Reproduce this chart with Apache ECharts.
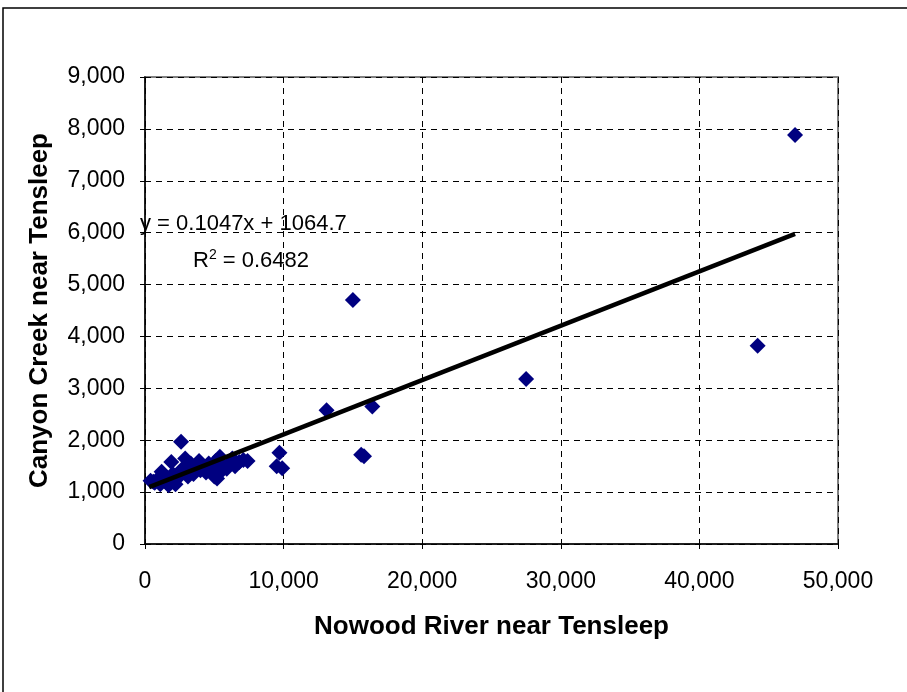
<!DOCTYPE html>
<html lang="en">
<head>
  <meta charset="UTF-8">
  <title>Canyon Creek vs Nowood River</title>
  <script src="https://cdn.jsdelivr.net/npm/echarts@6/dist/echarts.min.js"></script>
  <style>
    html, body { margin: 0; padding: 0; background: #fff; }
  </style>
</head>
<body>
  <div id="main" style="width:907px;height:692px"></div>
  <script>
    // flows (Nowood River x, Canyon Creek y)
    var nowood = [400, 600, 700, 900, 1100, 1200, 1400, 1500, 1700, 1900, 2000, 2200, 2400, 2600,
      2700, 2900, 3000, 3100, 3300, 3500, 3700, 3900, 4000, 4200, 4400, 4600, 4800, 5000,
      5100, 5200, 5400, 5500, 5700, 5900, 6100, 6300, 6500, 6800, 7100, 7400,
      9500, 9700, 9900, 13100, 15000, 15600, 15800, 16400, 27500, 44200, 46900];
    var canyon = [1220, 1200, 1180, 1250, 1150, 1390, 1300, 1200, 1130, 1580, 1350, 1150, 1280, 1970,
      1450, 1650, 1400, 1300, 1550, 1350, 1480, 1600, 1420, 1500, 1380, 1550, 1450, 1300,
      1600, 1260, 1680, 1400, 1500, 1450, 1550, 1650, 1500, 1580, 1620, 1600,
      1500, 1760, 1460, 2580, 4700, 1720, 1690, 2650, 3180, 3820, 7880];

    // linear trendline shown on the chart
    var slope = 0.1047;
    var intercept = 1064.7;
    var trendX = [300, 46900];

    var xTicks = [0, 10000, 20000, 30000, 40000, 50000];
    var yTicks = [0, 1000, 2000, 3000, 4000, 5000, 6000, 7000, 8000, 9000];

    var points = nowood.map(function (x, i) { return [x, canyon[i]]; });
    var trend = trendX.map(function (x) { return [x, slope * x + intercept]; });

    var fmt = function (v) { return v.toLocaleString('en-US'); };
    var font = 'Liberation Sans, Arial, sans-serif';

    var myChart = echarts.init(document.getElementById('main'));

    var option = {
      backgroundColor: '#fff',
      animation: false,
      grid: {
        left: 145, top: 77, right: 69, bottom: 148,
        show: true, borderColor: '#808080', borderWidth: 2
      },
      xAxis: {
        type: 'value',
        min: xTicks[0], max: xTicks[xTicks.length - 1], interval: 10000,
        name: 'Nowood River near Tensleep',
        nameLocation: 'middle', nameGap: 70,
        nameTextStyle: { fontFamily: font, fontSize: 26, fontWeight: 'bold', color: '#000' },
        axisLine: { lineStyle: { color: '#000', width: 1.5 } },
        axisTick: { show: true, length: 5, lineStyle: { color: '#000' } },
        axisLabel: { formatter: fmt, fontFamily: font, fontSize: 23, color: '#000', margin: 26 },
        splitLine: { lineStyle: { color: '#000', type: [6, 5], width: 1 } }
      },
      yAxis: {
        type: 'value',
        min: yTicks[0], max: yTicks[yTicks.length - 1], interval: 1000,
        name: 'Canyon Creek near Tensleep',
        nameLocation: 'middle', nameGap: 92,
        nameTextStyle: { fontFamily: font, fontSize: 26, fontWeight: 'bold', color: '#000' },
        axisLine: { show: true, lineStyle: { color: '#000', width: 1.5 } },
        axisTick: { show: true, length: 5, lineStyle: { color: '#000' } },
        axisLabel: { formatter: fmt, fontFamily: font, fontSize: 23, color: '#000', margin: 20 },
        splitLine: { lineStyle: { color: '#000', type: [6, 5], width: 1 } }
      },
      graphic: [
        {
          type: 'rect', silent: true,
          shape: { x: 3, y: 8, width: 1000, height: 1000 },
          style: { fill: 'none', stroke: '#000', lineWidth: 1.5 }
        },
        {
          type: 'text', left: 140, top: 213,
          style: { text: 'y = 0.1047x + 1064.7', font: '22px ' + font, fill: '#000' }
        },
        {
          type: 'text', left: 193, top: 248,
          style: {
            text: '{b|R}{s|2}{b| = 0.6482}',
            rich: {
              b: { fontFamily: font, fontSize: 22, color: '#000', verticalAlign: 'bottom' },
              s: { fontFamily: font, fontSize: 14, color: '#000', verticalAlign: 'top', padding: [0, 0, 10, 0] }
            }
          }
        }
      ],
      series: [
        {
          name: 'Flows',
          type: 'scatter',
          symbol: 'diamond',
          symbolSize: 16,
          itemStyle: { color: '#000080', opacity: 1 },
          data: points,
          z: 3
        },
        {
          name: 'Trend',
          type: 'line',
          data: trend,
          symbol: 'none',
          lineStyle: { color: '#000', width: 4.5 },
          z: 4
        }
      ]
    };

    myChart.setOption(option);
  </script>
</body>
</html>
